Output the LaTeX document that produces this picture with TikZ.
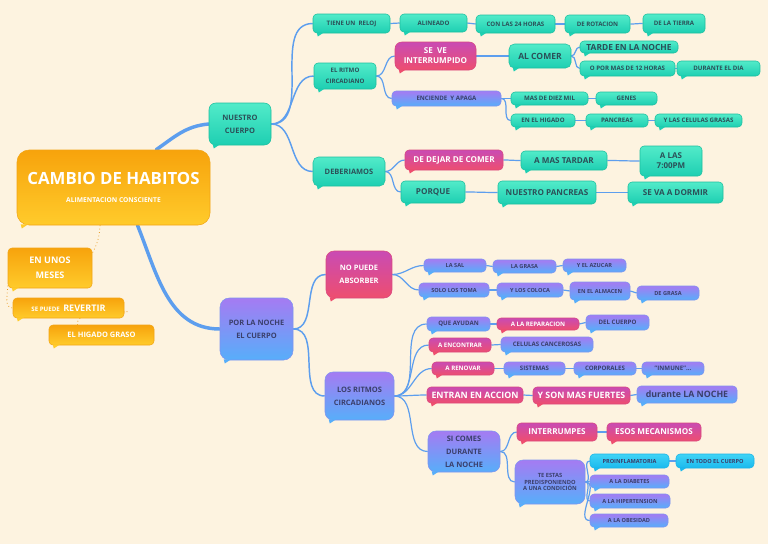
\documentclass[tikz,border=0pt]{standalone}
\usepackage{fontspec}
\setmainfont{Open Sans}
\usetikzlibrary{backgrounds}
\definecolor{bg}{HTML}{FDF3E0}
\definecolor{tealtop}{HTML}{52EBC9}
\definecolor{tealbot}{HTML}{1ECFB2}
\definecolor{tealdraw}{HTML}{1DBF9F}
\definecolor{tealtxt}{HTML}{2B5058}
\definecolor{pinktop}{HTML}{C94BB4}
\definecolor{pinkbot}{HTML}{EE4E6F}
\definecolor{pinkdraw}{HTML}{D9487F}
\definecolor{purptop}{HTML}{A57BF2}
\definecolor{purpbot}{HTML}{57AEFA}
\definecolor{purpdraw}{HTML}{7E93F0}
\definecolor{purptxt}{HTML}{3A3F6B}
\definecolor{orangetop}{HTML}{F7A30C}
\definecolor{orangebot}{HTML}{FFCB2B}
\definecolor{orangedraw}{HTML}{F2A516}
\definecolor{cyantop}{HTML}{40D4F6}
\definecolor{cyanbot}{HTML}{1BB9EE}
\definecolor{cyandraw}{HTML}{1CB4E6}
\definecolor{linkblue}{HTML}{5D9EEE}
\definecolor{odot}{HTML}{E89A20}
\newcommand\fzA{\fontsize{4.6}{6}\selectfont\bfseries}
\newcommand\fzS{\fontsize{4.2}{5.5}\selectfont\bfseries}
\newcommand\fzC{\fontsize{5.6}{7}\selectfont\bfseries}
\newcommand\fzD{\fontsize{6.1}{8}\selectfont\bfseries}
\newcommand\fzE{\fontsize{6.6}{9}\selectfont\bfseries}
\newcommand\bx[8]{\node[#2box, minimum width={(#5-#3)*0.75pt}, minimum height={(#6-#4)*0.75pt}, #8] (#1) at ({(#3+#5)/2},{(#4+#6)/2}) {#7};
\fill[#2bot] ([xshift=3pt,yshift=0.6pt]#1.south west) -- ++(0.8pt,-3pt) -- ++(4.5pt,3pt) -- cycle;}
\tikzset{
 base/.style={rounded corners=3pt, inner sep=0pt, align=center, line width=0.4pt},
 tealbox/.style={base, top color=tealtop, bottom color=tealbot, draw=tealdraw, text=tealtxt},
 pinkbox/.style={base, top color=pinktop, bottom color=pinkbot, draw=pinkdraw, text=white},
 purpbox/.style={base, top color=purptop, bottom color=purpbot, draw=purpdraw, text=purptxt},
 orangebox/.style={base, top color=orangetop, bottom color=orangebot, draw=orangedraw, text=white},
 cyanbox/.style={base, top color=cyantop, bottom color=cyanbot, draw=cyandraw, text=purptxt},
 conn/.style={draw=linkblue, line width=0.9pt},
 mainconn/.style={draw=linkblue, line width=2.6pt, line cap=round},
 midconn/.style={draw=linkblue, line width=1.1pt},
 orconn/.style={draw=odot, dotted, line width=0.6pt},
}
\begin{document}
\begin{tikzpicture}[x=0.75pt,y=-0.75pt]
\begin{pgfonlayer}{background}
\fill[bg] (0,0) rectangle (768,544);
\end{pgfonlayer}
\useasboundingbox (0,0) rectangle (768,544);
% central and orange
\bx{center}{orange}{17}{150}{210}{225}{{\fontsize{12.6}{15}\selectfont\bfseries CAMBIO DE HABITOS}\\[1pt]{\fontsize{5}{6}\selectfont\bfseries ALIMENTACION CONSCIENTE}}{rounded corners=9pt}
\bx{enunos}{orange}{8}{248}{92}{288}{EN UNOS\\MESES}{font=\fontsize{6.8}{11}\selectfont\bfseries}
\bx{sepuede}{orange}{13}{298}{124}{318}{{\fzA SE PUEDE} {\fontsize{6.8}{8}\selectfont\bfseries REVERTIR}}{}
\bx{higado}{orange}{49}{325}{154}{345}{EL HIGADO GRASO}{font=\fzC}
% level 1
\bx{nuestro}{teal}{209}{103}{271}{145}{NUESTRO\\CUERPO}{font=\fontsize{5.6}{9.5}\selectfont\bfseries, rounded corners=5pt}
\bx{porla}{purp}{220}{298}{293}{360}{POR LA NOCHE\\EL CUERPO}{font=\fontsize{5.6}{9.5}\selectfont\bfseries, rounded corners=7pt}
% nuestro cuerpo branch
\bx{tiene}{teal}{313}{14}{390}{33}{TIENE UN\ \ RELOJ}{font=\fzA}
\bx{alin}{teal}{400}{14}{467}{32}{ALINEADO}{font=\fzA}
\bx{con24}{teal}{476}{15}{555}{33}{CON LAS 24 HORAS}{font=\fzA}
\bx{derot}{teal}{565}{15}{630}{33}{DE ROTACION}{font=\fzA}
\bx{tierra}{teal}{643}{14}{705}{33}{DE LA TIERRA}{font=\fzA}
\bx{ritmo}{teal}{314}{63}{376}{89}{EL RITMO\\CIRCADIANO}{font=\fontsize{4.6}{8}\selectfont\bfseries}
\bx{seve}{pink}{395}{42}{476}{70}{SE\ \ VE\\INTERRUMPIDO}{font=\fontsize{6.1}{7.5}\selectfont\bfseries, rounded corners=5pt}
\bx{alcomer}{teal}{509}{44}{571}{68}{AL COMER}{font=\fontsize{6.4}{8}\selectfont\bfseries, rounded corners=4pt}
\bx{tarde}{teal}{580}{41}{678}{53}{TARDE EN LA NOCHE}{font=\fontsize{6.3}{8}\selectfont\bfseries}
\bx{opor}{teal}{580}{61}{675}{76}{O POR MAS DE 12 HORAS}{font=\fzA}
\bx{durdia}{teal}{677}{61}{760}{76}{DURANTE EL DIA}{font=\fzA}
\bx{enciende}{purp}{392}{91}{501}{106}{ENCIENDE\ \ Y APAGA}{font=\fzA}
\bx{masdiez}{teal}{511}{92}{588}{105}{MAS DE DIEZ MIL}{font=\fzA}
\bx{genes}{teal}{596}{92}{657}{105}{GENES}{font=\fzA}
\bx{enhig}{teal}{511}{114}{575}{127}{EN EL HIGADO}{font=\fzA}
\bx{pancreas}{teal}{586}{114}{648}{127}{PANCREAS}{font=\fzA}
\bx{celulas}{teal}{655}{114}{742}{127}{Y LAS CELULAS GRASAS}{font=\fzA}
\bx{deber}{teal}{313}{157}{385}{186}{DEBERIAMOS}{font=\fzC, rounded corners=4pt}
\bx{dejar}{pink}{405}{150}{503}{170}{DE DEJAR DE COMER}{font=\fzD}
\bx{mastardar}{teal}{521}{151}{607}{170}{A MAS TARDAR}{font=\fzD}
\bx{alas}{teal}{640}{146}{702}{176}{A LAS\\7:00PM}{font=\fontsize{6}{7.5}\selectfont\bfseries}
\bx{porque}{teal}{401}{181}{465}{203}{PORQUE}{font=\fzD}
\bx{npanc}{teal}{498}{181}{596}{204}{NUESTRO PANCREAS}{font=\fzD}
\bx{sevad}{teal}{628}{182}{723}{203}{SE VA A DORMIR}{font=\fzD}
% por la noche branch
\bx{nopuede}{pink}{326}{251}{392}{298}{NO PUEDE\\ABSORBER}{font=\fontsize{5.6}{10}\selectfont\bfseries, rounded corners=6pt}
\bx{lasal}{purp}{424}{259}{486}{272}{LA SAL}{font=\fzS}
\bx{lagrasa}{purp}{493}{260}{556}{273}{LA GRASA}{font=\fzS}
\bx{azucar}{purp}{563}{259}{626}{272}{Y EL AZUCAR}{font=\fzS}
\bx{solo}{purp}{419}{283}{489}{297}{SOLO LOS TOMA}{font=\fzS}
\bx{coloca}{purp}{497}{283}{563}{297}{Y LOS COLOCA}{font=\fzS}
\bx{almacen}{purp}{570}{282}{630}{300}{EN EL ALMACEN}{font=\fzS}
\bx{degrasa}{purp}{637}{286}{699}{300}{DE GRASA}{font=\fzS}
\bx{losritmos}{purp}{325}{372}{394}{420}{LOS RITMOS\\CIRCADIANOS}{font=\fontsize{5.6}{10}\selectfont\bfseries, rounded corners=6pt}
\bx{queay}{purp}{427}{317}{490}{331}{QUE AYUDAN}{font=\fzA}
\bx{repar}{pink}{497}{318}{579}{330}{A LA REPARACION}{font=\fzA}
\bx{delcuerpo}{purp}{586}{315}{649}{330}{DEL CUERPO}{font=\fzA}
\bx{encontrar}{pink}{429}{338}{491}{352}{A ENCONTRAR}{font=\fzA}
\bx{celcan}{purp}{501}{337}{593}{352}{CELULAS CANCEROSAS}{font=\fzA}
\bx{renovar}{pink}{432}{362}{494}{375}{A RENOVAR}{font=\fzA}
\bx{sistemas}{purp}{504}{362}{565}{375}{SISTEMAS}{font=\fzA}
\bx{corporales}{purp}{574}{362}{636}{375}{CORPORALES}{font=\fzA}
\bx{inmune}{purp}{642}{362}{704}{375}{"INMUNE"...}{font=\fzA}
\bx{entran}{pink}{427}{387}{523}{403}{ENTRAN EN ACCION}{font=\fzE}
\bx{sonmas}{pink}{533}{387}{630}{404}{Y SON MAS FUERTES}{font=\fzE}
\bx{durnoche}{purp}{637}{386}{737}{403}{durante LA NOCHE}{font=\fzE}
\bx{sicomes}{purp}{428}{431}{500}{472}{SI COMES\\DURANTE\\LA NOCHE}{font=\fontsize{5.6}{9.8}\selectfont\bfseries, rounded corners=6pt}
\bx{interr}{pink}{517}{423}{597}{441}{INTERRUMPES}{font=\fzD}
\bx{mecan}{pink}{607}{423}{701}{441}{ESOS MECANISMOS}{font=\fzD}
\bx{teestas}{purp}{515}{460}{585}{504}{TE ESTAS\\PREDISPONIENDO\\A UNA CONDICIÓN}{font=\fontsize{4.3}{5.2}\selectfont\bfseries, rounded corners=6pt}
\bx{proinf}{cyan}{590}{454}{669}{468}{PROINFLAMATORIA}{font=\fzS}
\bx{todo}{cyan}{676}{454}{754}{468}{EN TODO EL CUERPO}{font=\fzS}
\bx{diabetes}{purp}{590}{475}{669}{488}{A LA DIABETES}{font=\fzS}
\bx{hiper}{purp}{590}{494}{670}{508}{A LA HIPERTENSION}{font=\fzS}
\bx{obes}{purp}{590}{514}{668}{527}{A LA OBESIDAD}{font=\fzS}
% connectors
\begin{pgfonlayer}{background}
\draw[mainconn] ([xshift=32pt]center.north) to[out=35,in=185] (nuestro.west);
\draw[mainconn] ([xshift=18pt]center.south) to[out=-68,in=180] (porla.west);
\draw[orconn] ([xshift=-10pt]center.south) to[out=-95,in=60] ([yshift=-4pt]enunos.north east);
\draw[orconn] ([yshift=2pt]enunos.south west) to[out=-90,in=180] (sepuede.west);
\draw[orconn] ([yshift=-3pt]sepuede.east) to[out=0,in=100] ([xshift=-18pt]higado.north);
\foreach \a/\b in {nuestro/tiene,nuestro/ritmo,nuestro/deber,porla/nopuede,porla/losritmos}
  \draw[midconn] (\a.east) to[out=0,in=180] (\b.west);
\foreach \a/\b in {tiene/alin,alin/con24,con24/derot,derot/tierra,ritmo/seve,ritmo/enciende,seve/alcomer,alcomer/tarde,alcomer/opor,opor/durdia,enciende/masdiez,masdiez/genes,enciende/enhig,enhig/pancreas,pancreas/celulas,deber/dejar,dejar/mastardar,mastardar/alas,deber/porque,porque/npanc,npanc/sevad,nopuede/lasal,lasal/lagrasa,lagrasa/azucar,nopuede/solo,solo/coloca,coloca/almacen,almacen/degrasa,losritmos/queay,queay/repar,repar/delcuerpo,losritmos/encontrar,encontrar/celcan,losritmos/renovar,renovar/sistemas,sistemas/corporales,corporales/inmune,losritmos/entran,entran/sonmas,sonmas/durnoche,losritmos/sicomes,sicomes/interr,interr/mecan,sicomes/teestas,teestas/proinf,proinf/todo,teestas/diabetes,teestas/hiper,teestas/obes}
  \draw[conn] (\a.east) to[out=0,in=180] (\b.west);
\end{pgfonlayer}
\end{tikzpicture}
\end{document}
